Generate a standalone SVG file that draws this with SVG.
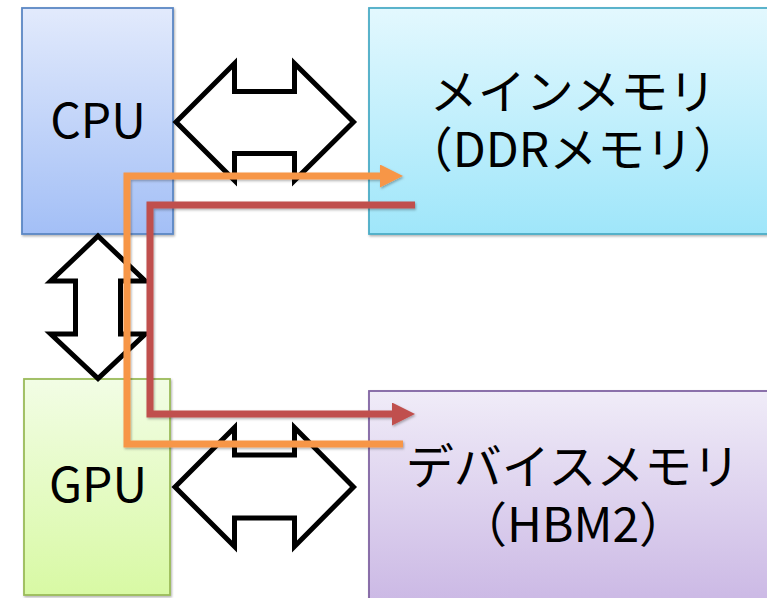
<svg xmlns="http://www.w3.org/2000/svg" width="767" height="598" viewBox="0 0 767 598">
  <style>
    .label { font-family: "Noto Sans CJK JP", "Noto Sans", sans-serif; font-size: 48px; fill: #000; text-anchor: middle; }
    .box { stroke-width: 1.8; }
    .bus { fill: #fff; stroke: #000; stroke-width: 5; stroke-linejoin: miter; stroke-miterlimit: 4; }
    .path { fill: none; stroke-width: 7; stroke-linejoin: miter; stroke-linecap: butt; }
  </style>
  <defs>
    <linearGradient id="gCpu" x1="0" y1="0" x2="0" y2="1">
      <stop offset="0" stop-color="#E2EAFC"/>
      <stop offset="1" stop-color="#A3BFF6"/>
    </linearGradient>
    <linearGradient id="gMain" x1="0" y1="0" x2="0" y2="1">
      <stop offset="0" stop-color="#E3F8FE"/>
      <stop offset="1" stop-color="#9FE6FA"/>
    </linearGradient>
    <linearGradient id="gGpu" x1="0" y1="0" x2="0" y2="1">
      <stop offset="0" stop-color="#F2FDE5"/>
      <stop offset="1" stop-color="#D8F9A4"/>
    </linearGradient>
    <linearGradient id="gDev" x1="0" y1="0" x2="0" y2="1">
      <stop offset="0" stop-color="#F0ECF8"/>
      <stop offset="1" stop-color="#C8B4E3"/>
    </linearGradient>
    <filter id="shadow" x="-10%" y="-10%" width="130%" height="130%">
      <feDropShadow dx="1" dy="1.5" stdDeviation="1.2" flood-color="#000" flood-opacity="0.3"/>
    </filter>
    <marker id="headOrange" markerUnits="userSpaceOnUse" markerWidth="24" markerHeight="24" refX="5" refY="11.5" orient="auto">
      <path d="M0,0 L23,11.5 L0,23 Z" fill="#F79646"/>
    </marker>
    <marker id="headRed" markerUnits="userSpaceOnUse" markerWidth="24" markerHeight="24" refX="5" refY="11.5" orient="auto">
      <path d="M0,0 L23,11.5 L0,23 Z" fill="#C0504D"/>
    </marker>
  </defs>

  <rect width="767" height="598" fill="#fff"/>

  <g id="cpu">
    <rect class="box" x="22" y="8" width="151" height="226" fill="url(#gCpu)" stroke="#5B87C4" filter="url(#shadow)"/>
    <text class="label" x="98" y="138">CPU</text>
  </g>

  <g id="main-memory">
    <rect class="box" x="369" y="8" width="420" height="226" fill="url(#gMain)" stroke="#4BACC6" filter="url(#shadow)"/>
    <text class="label" x="573" y="109">メインメモリ<tspan x="573" dy="58">（DDRメモリ）</tspan></text>
  </g>

  <g id="gpu">
    <rect class="box" x="24" y="379" width="146" height="216" fill="url(#gGpu)" stroke="#9BBB59" filter="url(#shadow)"/>
    <text class="label" x="98" y="502">GPU</text>
  </g>

  <g id="device-memory">
    <rect class="box" x="369" y="391" width="420" height="230" fill="url(#gDev)" stroke="#8064A2" filter="url(#shadow)"/>
    <text class="label" x="573" y="484">デバイスメモリ<tspan x="573" dy="58">（HBM2）</tspan></text>
  </g>

  <g id="buses">
    <!-- CPU <-> main memory -->
    <polygon class="bus" points="176,122 234.5,63.5 234.5,91.5 294.5,91.5 294.5,63.5 353.5,122 294.5,180.5 294.5,153.5 234.5,153.5 234.5,180.5"/>
    <!-- CPU <-> GPU -->
    <polygon class="bus" points="98,236 145.3,281 120.5,281 120.5,334 145.3,334 98,378.5 50.7,334 75.5,334 75.5,281 50.7,281"/>
    <!-- GPU <-> device memory -->
    <polygon class="bus" points="175,487 234.5,427.5 234.5,455 294.5,455 294.5,427.5 353.5,487 294.5,546.5 294.5,518 234.5,518 234.5,546.5"/>
  </g>

  <g id="connectors" filter="url(#shadow)">
    <!-- device memory -> main memory -->
    <path class="path" stroke="#F79646" d="M403,444 H127 V176 H385" marker-end="url(#headOrange)"/>
    <!-- main memory -> device memory -->
    <path class="path" stroke="#C0504D" d="M415,205 H150 V414 H397" marker-end="url(#headRed)"/>
  </g>
</svg>
